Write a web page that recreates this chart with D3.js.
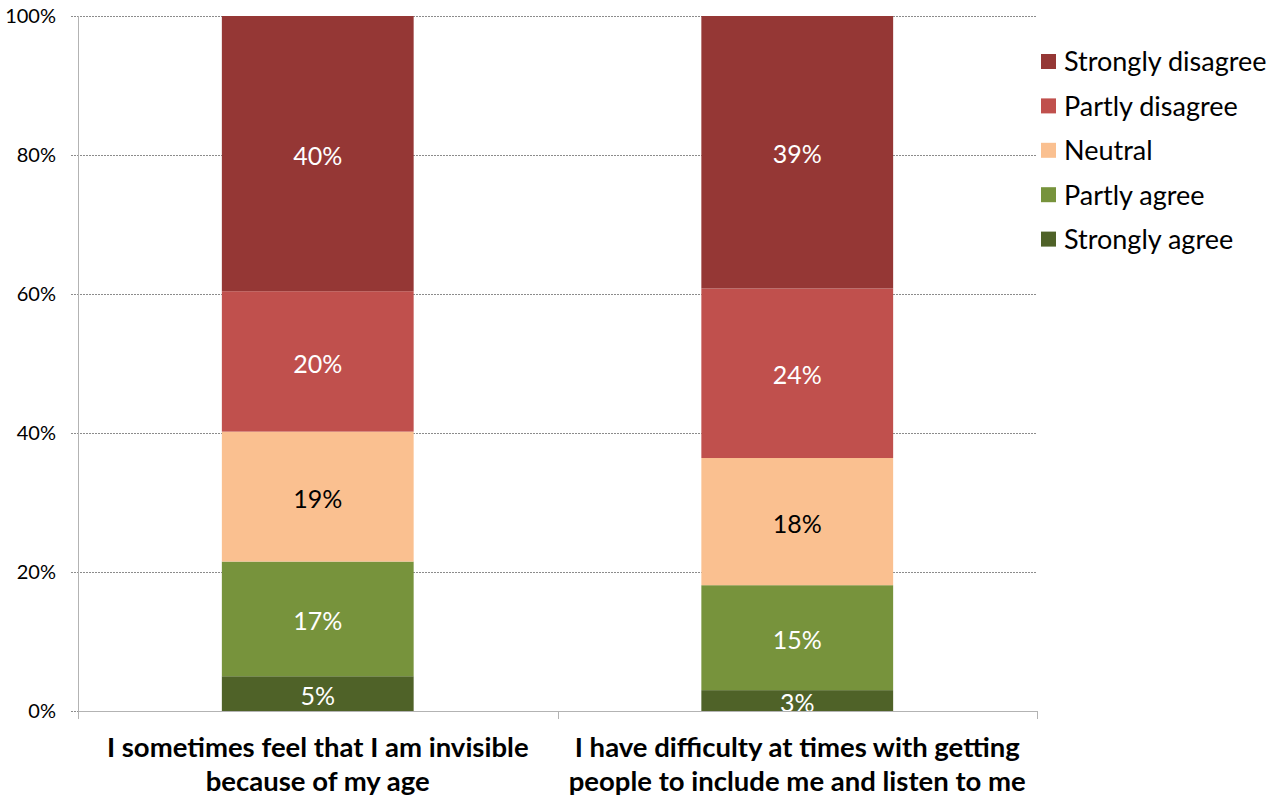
<!DOCTYPE html>
<meta charset="utf-8">
<style>
body { margin: 0; background: #fff; }
text { font-family: Lato, "Open Sans", sans-serif; }
.grid line { stroke: #8c8c8c; stroke-width: 1px; stroke-dasharray: 2,1; shape-rendering: crispEdges; }
.axis path, .axis line { stroke: #b3b3b3; shape-rendering: crispEdges; }
</style>
<svg width="1278" height="797"></svg>
<script src="https://d3js.org/d3.v7.min.js"></script>
<script>
// values in percent
var categories = ["I sometimes feel that I am invisible|because of my age",
                  "I have difficulty at times with getting|people to include me and listen to me"];
var seriesNames = ["Strongly agree", "Partly agree", "Neutral", "Partly disagree", "Strongly disagree"];
var stronglyAgree = [5.0, 3.0];
var partlyAgree = [16.5, 15.1];
var neutral = [18.7, 18.3];
var partlyDisagree = [20.2, 24.4];
var stronglyDisagree = [39.6, 39.2];
var yTicks = [0, 20, 40, 60, 80, 100];
var colors = ["#4F6228", "#77933C", "#FAC090", "#C0504D", "#953735"];
var labelColors = ["#fff", "#fff", "#000", "#fff", "#fff"];

var svg = d3.select("svg"),
    margin = {top: 16, left: 78, right: 241, bottom: 86},
    width = 1278 - margin.left - margin.right,
    height = 797 - margin.top - margin.bottom;

var rows = categories.map(function(c, i) {
  return {cat: c, "Strongly agree": stronglyAgree[i], "Partly agree": partlyAgree[i],
          "Neutral": neutral[i], "Partly disagree": partlyDisagree[i], "Strongly disagree": stronglyDisagree[i]};
});
var stack = d3.stack().keys(seriesNames)(rows);

var x = d3.scaleBand().domain(categories).range([0, width]).padding(0);
var y = d3.scaleLinear().domain([0, 100]).range([height, 0]);
var barW = x.bandwidth() / 2.5;

var g = svg.append("g").attr("transform", "translate(" + margin.left + "," + margin.top + ")");

g.append("clipPath").attr("id", "plot").append("rect")
    .attr("x", 0).attr("y", 0).attr("width", width).attr("height", height);

// gridlines
g.append("g").attr("class", "grid")
  .selectAll("line").data(yTicks).enter().append("line")
    .attr("x1", -7).attr("x2", width)
    .attr("y1", function(d) { return Math.round(y(d)) + 0.5; })
    .attr("y2", function(d) { return Math.round(y(d)) + 0.5; });

// y tick labels
g.append("g").selectAll("text").data(yTicks).enter().append("text")
    .attr("x", -22).attr("y", function(d) { return y(d); })
    .attr("dy", "0.35em").attr("text-anchor", "end")
    .style("font-size", "20px").attr("fill", "#000")
    .text(function(d) { return d + "%"; });

// bars
var layers = g.append("g").selectAll("g").data(stack).enter().append("g")
    .attr("fill", function(d, i) { return colors[i]; });
layers.selectAll("rect").data(function(d) { return d; }).enter().append("rect")
    .attr("x", function(d) { return x(d.data.cat) + (x.bandwidth() - barW) / 2; })
    .attr("width", barW)
    .attr("y", function(d) { return y(d[1]); })
    .attr("height", function(d) { return y(d[0]) - y(d[1]); });

// data labels
var lab = g.append("g").attr("clip-path", "url(#plot)");
stack.forEach(function(s, i) {
  lab.selectAll(null).data(s).enter().append("text")
      .attr("x", function(d) { return x(d.data.cat) + x.bandwidth() / 2; })
      .attr("y", function(d) { return y((d[0] + d[1]) / 2); })
      .attr("dy", "0.45em").attr("text-anchor", "middle")
      .style("font-size", "25px").attr("fill", labelColors[i])
      .text(function(d) { return Math.round(d[1] - d[0]) + "%"; });
});

// axes lines
g.append("line").attr("class", "axis").attr("x1", 0.5).attr("x2", 0.5).attr("y1", 0).attr("y2", height + 8)
  .attr("stroke", "#b3b3b3");
g.append("line").attr("x1", 0).attr("x2", width).attr("y1", height + 0.5).attr("y2", height + 0.5)
  .attr("stroke", "#b3b3b3");
g.append("g").selectAll("line").data(categories).enter().append("line")
    .attr("x1", function(d) { return Math.round(x(d) + x.bandwidth()) + 0.5; })
    .attr("x2", function(d) { return Math.round(x(d) + x.bandwidth()) + 0.5; })
    .attr("y1", height).attr("y2", height + 8).attr("stroke", "#b3b3b3");

// category labels
g.append("g").selectAll("text").data(categories).enter().append("text")
    .attr("x", function(d) { return x(d) + x.bandwidth() / 2; })
    .attr("y", height + 46).attr("text-anchor", "middle")
    .style("font-size", "27.5px").style("font-weight", "bold").attr("fill", "#000")
    .each(function(d) {
      var t = d3.select(this);
      d.split("|").forEach(function(line, i) {
        t.append("tspan").attr("x", x(d) + x.bandwidth() / 2).attr("dy", i ? 34 : 0).text(line);
      });
    });

// legend
var legend = svg.append("g").attr("transform", "translate(1041,62)");
var items = seriesNames.slice().reverse();
var li = legend.selectAll("g").data(items).enter().append("g")
    .attr("transform", function(d, i) { return "translate(0," + (i * 44.4) + ")"; });
li.append("rect").attr("x", 0).attr("y", -8).attr("width", 15).attr("height", 15)
    .attr("fill", function(d) { return colors[seriesNames.indexOf(d)]; });
li.append("text").attr("x", 23).attr("dy", "0.35em")
    .style("font-size", "27px").attr("fill", "#000").text(function(d) { return d; });
</script>
